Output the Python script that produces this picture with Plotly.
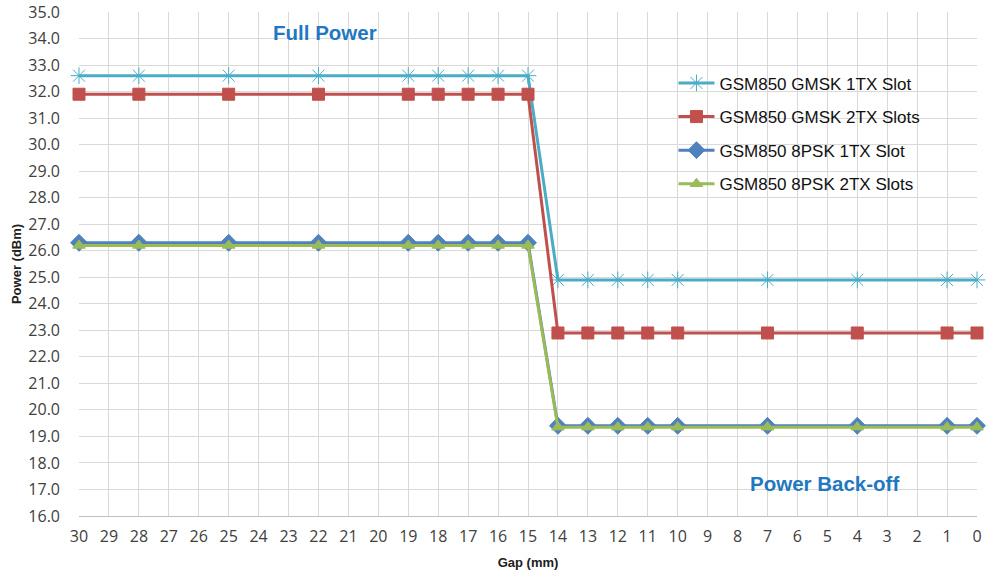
import plotly.graph_objects as go

gap = [30, 28, 25, 22, 19, 18, 17, 16, 15, 14, 13, 12, 11, 10, 7, 4, 1, 0]
gmsk_1tx = [32.6]*9 + [24.9]*9
gmsk_2tx = [31.9]*9 + [22.9]*9
psk_1tx = [26.3]*9 + [19.4]*9
psk_2tx = [26.2]*9 + [19.35]*9

names = ["GSM850 GMSK 1TX Slot", "GSM850 GMSK 2TX Slots",
         "GSM850 8PSK 1TX Slot", "GSM850 8PSK 2TX Slots"]
series = [gmsk_1tx, gmsk_2tx, psk_1tx, psk_2tx]
colors = ["#4BACC6", "#C0504D", "#4F81BD", "#9BBB59"]
symbols = ["asterisk-open", "square", "diamond", "triangle-up"]
sizes = [14, 12, 13, 11]

fig = go.Figure()
for i, (n, s, c, sym, sz) in enumerate(zip(names, series, colors, symbols, sizes)):
    fig.add_trace(go.Scatter(
        x=gap, y=s, name=n, mode="lines+markers", legendgroup=f"g{i}",
        line=dict(color=c, width=3),
        marker=dict(symbol=sym, size=sz, color=c,
                    line=dict(color=c, width=1)),
        cliponaxis=False,
    ))

fig.update_layout(
    width=987, height=578,
    margin=dict(l=79, r=10, t=12, b=62),
    plot_bgcolor="white", paper_bgcolor="white",
    font=dict(family="Liberation Sans, Arial", color="#404040"),
    legend=dict(x=0.662, y=0.894, xanchor="left", yanchor="top",
                font=dict(size=17, color="#111111"),
                tracegroupgap=8.5, itemwidth=36,
                bgcolor="rgba(255,255,255,0)"),
    xaxis=dict(range=[30, 0], dtick=1, tick0=0, automargin=False,
               showgrid=True, gridcolor="#D9D9D9", gridwidth=1,
               showline=True, linecolor="#BFBFBF",
               zeroline=False, ticks="", ticklabelstandoff=6,
               ticklabeloverflow="allow",
               tickfont=dict(family="Open Sans, Liberation Sans", size=16, color="#404040"),
               title=dict(text="<b>Gap (mm)</b>", font=dict(size=13, color="#202020"), standoff=11)),
    yaxis=dict(range=[16, 35], dtick=1, tick0=16, tickformat=".1f", automargin=False,
               showgrid=True, gridcolor="#D9D9D9", gridwidth=1,
               zeroline=False, ticks="", ticklabelstandoff=18,
               ticklabeloverflow="allow",
               tickfont=dict(family="Open Sans, Liberation Sans", size=16, color="#404040"),
               title=dict(text="<b>Power (dBm)</b>", font=dict(size=13, color="#202020"), standoff=3)),
    annotations=[
        dict(text="<b>Full Power</b>", x=0.274, y=0.96, xref="paper", yref="paper",
             xanchor="center", yanchor="middle",
             showarrow=False, font=dict(size=20.5, color="#1F78C1")),
        dict(text="<b>Power Back-off</b>", x=0.83, y=0.065, xref="paper", yref="paper",
             xanchor="center", yanchor="middle",
             showarrow=False, font=dict(size=20.5, color="#1F78C1")),
    ],
)

fig.write_html("out.html", config={"displayModeBar": False},
               post_script="document.body.style.margin='0';")
